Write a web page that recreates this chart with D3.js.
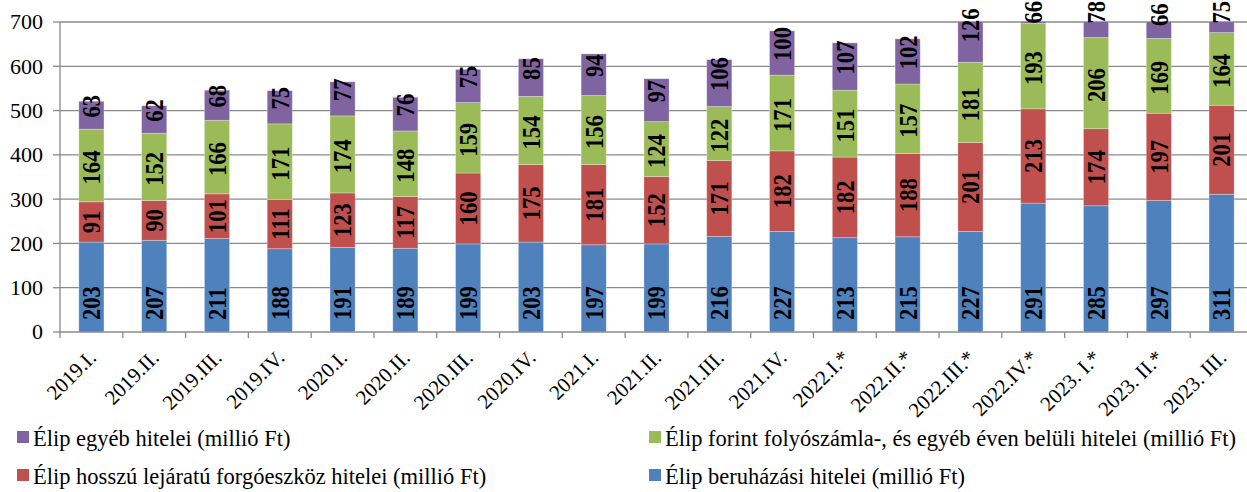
<!DOCTYPE html>
<meta charset="utf-8">
<style>
    body { margin: 0; background: #fff; }
    text { font-family: "Liberation Serif", "Times New Roman", serif; fill: #000; }
    .grid line { stroke: #8a8a8a; stroke-width: 1.3px; }
    .axis line { stroke: #8a8a8a; stroke-width: 1.3px; }
</style>
<svg width="1247" height="492"></svg>
<script src="https://d3js.org/d3.v7.min.js"></script>
<script>

    var quarters = ["2019.I.", "2019.II.", "2019.III.", "2019.IV.", "2020.I.", "2020.II.", "2020.III.", "2020.IV.",
        "2021.I.", "2021.II.", "2021.III.", "2021.IV.", "2022.I.*", "2022.II.*", "2022.III.*", "2022.IV.*",
        "2023. I.*", "2023. II.*", "2023. III."];

    // millió Ft
    var beruhazasi = [203, 207, 211, 188, 191, 189, 199, 203, 197, 199, 216, 227, 213, 215, 227, 291, 285, 297, 311];
    var hosszu = [91, 90, 101, 111, 123, 117, 160, 175, 181, 152, 171, 182, 182, 188, 201, 213, 174, 197, 201];
    var folyoszamla = [164, 152, 166, 171, 174, 148, 159, 154, 156, 124, 122, 171, 151, 157, 181, 193, 206, 169, 164];
    var egyeb = [63, 62, 68, 75, 77, 76, 75, 85, 94, 97, 106, 100, 107, 102, 126, 66, 78, 66, 75];

    var yTicks = [0, 100, 200, 300, 400, 500, 600, 700];

    var series = [
        {key: "b", name: "Élip beruházási hitelei (millió Ft)", color: "#4F81BD"},
        {key: "h", name: "Élip hosszú lejáratú forgóeszköz hitelei (millió Ft)", color: "#C0504D"},
        {key: "f", name: "Élip forint folyószámla-, és egyéb éven belüli hitelei (millió Ft)", color: "#9BBB59"},
        {key: "e", name: "Élip egyéb hitelei (millió Ft)", color: "#8064A2"}
    ];

    var rows = quarters.map(function (q, i) {
        return {q: q, b: beruhazasi[i], h: hosszu[i], f: folyoszamla[i], e: egyeb[i]};
    });

    var svg = d3.select("svg"),
        margin = {top: 22, left: 60},
        width = 1193,
        height = 310,
        g = svg.append("g").attr("transform", "translate(" + margin.left + "," + margin.top + ")");

    var x = d3.scaleBand().domain(quarters).range([0, width]).paddingInner(0.6).paddingOuter(0.3),
        y = d3.scaleLinear().domain([0, 700]).range([height, 0]),
        color = d3.scaleOrdinal().domain(series.map(function (s) { return s.key; }))
            .range(series.map(function (s) { return s.color; }));

    var stacked = d3.stack().keys(series.map(function (s) { return s.key; }))(rows);

    // gridlines
    g.append("g").attr("class", "grid")
        .selectAll("line").data(yTicks).enter().append("line")
        .attr("x1", 0).attr("x2", width)
        .attr("y1", function (d) { return y(d); })
        .attr("y2", function (d) { return y(d); });

    // y axis
    var ax = g.append("g").attr("class", "axis");
    ax.append("line").attr("x1", 0).attr("x2", 0).attr("y1", 0).attr("y2", height + 6);
    ax.selectAll(".ytick").data(yTicks).enter().append("line")
        .attr("x1", -7).attr("x2", 0)
        .attr("y1", function (d) { return y(d); })
        .attr("y2", function (d) { return y(d); });
    ax.selectAll(".ylab").data(yTicks).enter().append("text")
        .attr("x", -17)
        .attr("y", function (d) { return y(d); })
        .attr("dy", "0.34em")
        .attr("text-anchor", "end")
        .style("font-size", "22px")
        .text(function (d) { return d; });

    // x ticks at category boundaries
    var step = x.step();
    ax.selectAll(".xtick").data(quarters).enter().append("line")
        .attr("x1", function (d) { return x(d) - x.paddingInner() * step / 2 + step; })
        .attr("x2", function (d) { return x(d) - x.paddingInner() * step / 2 + step; })
        .attr("y1", height).attr("y2", height + 6);

    ax.selectAll(".xlab").data(quarters).enter().append("text")
        .attr("transform", function (d) {
            return "translate(" + (x(d) + x.bandwidth() / 2 + 6) + "," + (height + 27) + ") rotate(-45)";
        })
        .attr("text-anchor", "end")
        .style("font-size", "21px")
        .text(function (d) { return d; });

    // bars
    svg.append("clipPath").attr("id", "plot")
        .append("rect").attr("x", 0).attr("y", 0).attr("width", width).attr("height", height);

    var bars = g.append("g").attr("clip-path", "url(#plot)");
    bars.selectAll(".layer").data(stacked).enter().append("g")
        .attr("fill", function (d) { return color(d.key); })
        .selectAll("rect").data(function (d) { return d; }).enter().append("rect")
        .attr("x", function (d) { return x(d.data.q); })
        .attr("width", x.bandwidth())
        .attr("y", function (d) { return y(d[1]); })
        .attr("height", function (d) { return y(d[0]) - y(d[1]); })
        .attr("stroke", "#fff").attr("stroke-opacity", 0.35).attr("stroke-width", 0.8);

    // value labels (rotated, bold); kept inside the chart area at the top
    var labelSize = 26, labelSqueeze = 0.87;
    var labelShift = {b: 0, h: 0, f: 2, e: -9};
    g.append("g").selectAll(".layer").data(stacked).enter().append("g")
        .each(function (layer) {
            d3.select(this).selectAll("text").data(layer).enter().append("text")
                .attr("transform", function (d) {
                    var cx = x(d.data.q) + x.bandwidth() / 2;
                    var half = String(d[1] - d[0]).length * labelSize * 0.5 * labelSqueeze / 2;
                    var cy = layer.key === "b" ? y(0) - 12 : (y(d[0]) + y(d[1])) / 2 + labelShift[layer.key];
                    if (layer.key !== "b") cy = Math.max(cy, -margin.top + half + 1);
                    return "translate(" + cx + "," + cy + ") rotate(-90) scale(" + labelSqueeze + ",1)";
                })
                .attr("dy", "0.34em")
                .attr("text-anchor", layer.key === "b" ? "start" : "middle")
                .style("font-size", labelSize + "px")
                .style("font-weight", "bold")
                .text(function (d) { return d[1] - d[0]; });
        });

    // legend
    var legendItems = [
        {key: "e", x: 17, y: 437},
        {key: "f", x: 649, y: 437},
        {key: "h", x: 17, y: 475},
        {key: "b", x: 649, y: 475}
    ];
    var legend = svg.selectAll(".legend").data(legendItems).enter().append("g")
        .attr("transform", function (d) { return "translate(" + d.x + "," + d.y + ")"; });
    legend.append("rect")
        .attr("x", 0).attr("y", -6).attr("width", 12).attr("height", 12)
        .attr("fill", function (d) { return color(d.key); });
    legend.append("text")
        .attr("x", 16).attr("dy", "0.4em")
        .style("font-size", "22.5px")
        .text(function (d) {
            return series.filter(function (s) { return s.key === d.key; })[0].name;
        });

</script>
